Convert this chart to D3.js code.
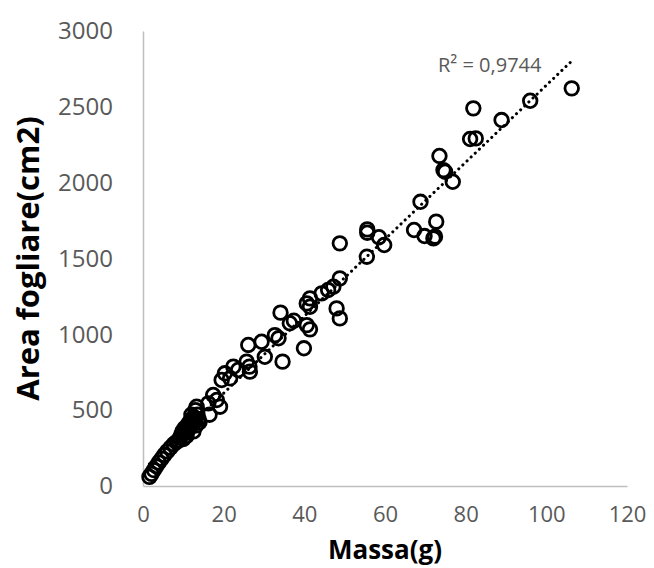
<!DOCTYPE html>
<html>
<head>
<meta charset="utf-8">
<script src="https://cdn.jsdelivr.net/npm/d3@7"></script>
<style>
  html, body { margin: 0; padding: 0; background: #ffffff; }
  text { font-family: "Open Sans", "Liberation Sans", sans-serif; }
</style>
</head>
<body>
<div id="chart"></div>
<script>
// massa (g) e area fogliare (cm2)
var masse = [1.6, 2.1, 2.7, 3.3, 3.9, 4.6, 5.3, 6.0, 6.8, 7.6, 8.3,
    8.8, 9.2, 9.5, 9.8, 10.0, 10.3, 10.5, 10.8, 11.0, 11.2, 11.5, 11.8, 12.0, 12.3, 12.5, 12.8, 13.0, 13.2, 13.5, 13.8, 14.0, 12.0, 13.0, 13.3,
    16.5, 16.2, 17.4, 18.3, 19.1,
    19.5, 20.3, 21.6, 22.4, 23.6, 25.7, 26.4, 26.5, 26.1, 29.4, 30.2, 32.7, 33.6, 34.1, 34.6, 36.4, 37.4, 39.9, 40.6, 41.4, 40.6, 41.4, 41.4,
    44.3, 45.9, 47.2, 48.0, 48.8, 48.8, 48.8, 55.5, 55.6, 55.6, 58.5, 59.8, 67.2, 68.8, 69.8, 72.0, 72.4, 72.7, 73.5, 74.5, 74.9, 76.8,
    81.1, 82.5, 81.9, 88.9, 96.0, 106.3];
var aree = [60, 80, 105, 130, 155, 180, 205, 228, 252, 275, 290,
    300, 320, 340, 360, 310, 380, 350, 330, 400, 370, 420, 390, 440, 410, 360, 450, 430, 400, 470, 440, 420, 470, 500, 523,
    470, 545, 600, 567, 523,
    699, 743, 710, 787, 765, 820, 787, 754, 930, 951, 852, 995, 974, 1143, 820, 1073, 1090, 908, 1061, 1033, 1204, 1237, 1182,
    1270, 1292, 1314, 1171, 1105, 1369, 1600, 1512, 1692, 1670, 1640, 1589, 1688, 1874, 1648, 1633, 1644, 1743, 2176, 2083, 2072, 2006,
    2288, 2292, 2490, 2413, 2540, 2622];
var x_ticks = [0, 20, 40, 60, 80, 100, 120];
var y_ticks = [0, 500, 1000, 1500, 2000, 2500, 3000];
var x_title = "Massa(g)";
var y_title = "Area fogliare(cm2)";
var r2_label = "R² = 0,9744";

var W = 654, H = 568;
var margin = ({top: 31, right: 27, bottom: 82, left: 143});
var CIRCLE_R = 6.8;
var TICK_COLOR = "#595959";
var AXIS_COLOR = "#bfbfbf";

var svg = d3.select("#chart")
    .append("svg")
    .attr("width", W)
    .attr("height", H);

var x = d3.scaleLinear().domain([0, 120]).range([margin.left, W - margin.right]);
var y = d3.scaleLinear().domain([0, 3000]).range([H - margin.bottom, margin.top]);

// assi: solo la linea, niente tacche
var xAxis = svg.append("g")
    .attr("transform", "translate(0," + y(0) + ")")
    .call(d3.axisBottom(x).tickValues(x_ticks).tickFormat(d3.format("d")).tickSize(0).tickPadding(20));
var yAxis = svg.append("g")
    .attr("transform", "translate(" + x(0) + ",0)")
    .call(d3.axisLeft(y).tickValues(y_ticks).tickFormat(d3.format("d")).tickSize(0).tickPadding(30));

xAxis.selectAll("text").style("font-size", "22px");
yAxis.selectAll("text").style("font-size", "24px");
[xAxis, yAxis].forEach(function (ax) {
    ax.select(".domain").attr("stroke", AXIS_COLOR).attr("stroke-width", 1.5);
    ax.selectAll("text")
        .attr("fill", TICK_COLOR)
        .style("font-family", "'Open Sans', sans-serif");
});

// linea di tendenza (minimi quadrati)
var n = masse.length;
var mx = d3.mean(masse), my = d3.mean(aree);
var sxy = 0, sxx = 0;
for (var i = 0; i < n; i++) {
    sxy += (masse[i] - mx) * (aree[i] - my);
    sxx += (masse[i] - mx) * (masse[i] - mx);
}
var slope = sxy / sxx;
var intercept = my - slope * mx;
var xmin = d3.min(masse), xmax = d3.max(masse);

svg.append("line")
    .attr("x1", x(xmin))
    .attr("y1", y(intercept + slope * xmin))
    .attr("x2", x(xmax))
    .attr("y2", y(intercept + slope * xmax))
    .attr("stroke", "black")
    .attr("stroke-width", 3)
    .attr("stroke-linecap", "round")
    .attr("stroke-dasharray", "0.1,5.6");

var punti = masse.map(function (m, i) { return {m: m, a: aree[i]}; });

svg.selectAll("circle.pt")
    .data(punti)
    .enter()
    .append("circle")
    .attr("class", "pt")
    .attr("cx", d => x(d.m))
    .attr("cy", d => y(d.a))
    .attr("r", CIRCLE_R)
    .attr("fill", "none")
    .attr("stroke", "black")
    .attr("stroke-width", 2.8);

svg.append("text")
    .attr("x", 438)
    .attr("y", 72)
    .attr("fill", TICK_COLOR)
    .style("font-size", "20px")
    .text(r2_label);

svg.append("text")
    .attr("x", (x(0) + x(120)) / 2)
    .attr("y", 559)
    .attr("text-anchor", "middle")
    .attr("fill", "black")
    .style("font-size", "26px")
    .style("font-weight", "bold")
    .text(x_title);

svg.append("text")
    .attr("transform", "translate(39," + ((y(0) + y(3000)) / 2) + ") rotate(-90)")
    .attr("text-anchor", "middle")
    .attr("fill", "black")
    .style("font-size", "31px")
    .style("font-weight", "bold")
    .text(y_title);
</script>
</body>
</html>
